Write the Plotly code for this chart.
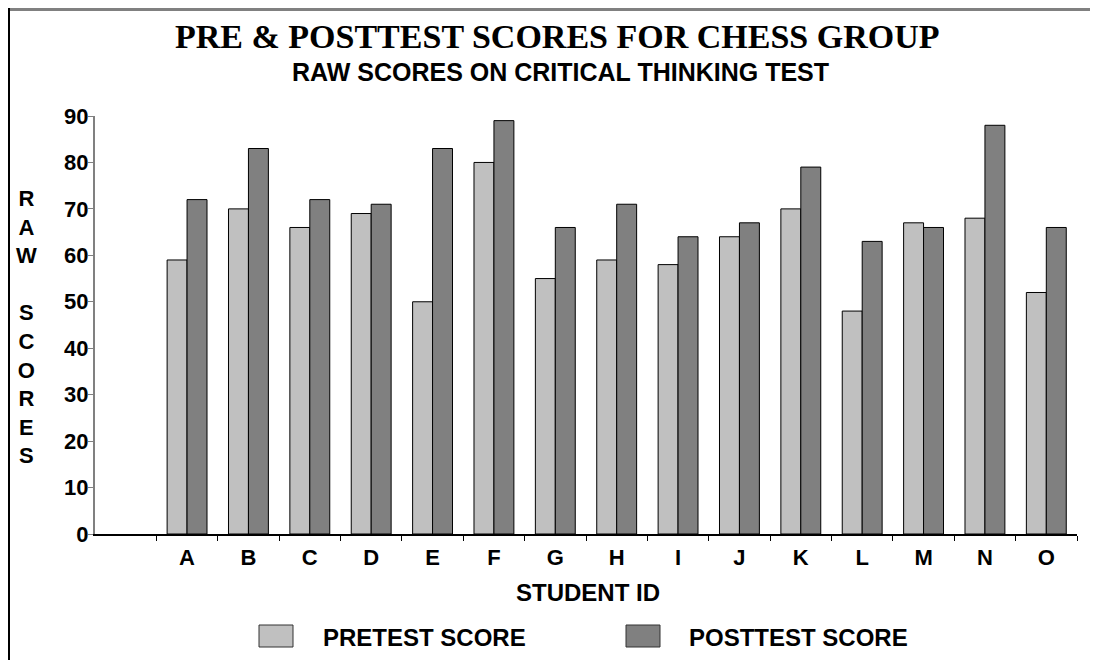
import plotly.graph_objects as go

students = ["A", "B", "C", "D", "E", "F", "G", "H", "I", "J", "K", "L", "M", "N", "O"]
pretest = [59, 70, 66, 69, 50, 80, 55, 59, 58, 64, 70, 48, 67, 68, 52]
posttest = [72, 83, 72, 71, 83, 89, 66, 71, 64, 67, 79, 63, 66, 88, 66]
series_names = ["PRETEST SCORE", "POSTTEST SCORE"]
series_colors = ["#C0C0C0", "#808080"]
y_ticks = [0, 10, 20, 30, 40, 50, 60, 70, 80, 90]

# page has an 8px body margin; figure sized to fit the 1098x660 window
OFF = 8
W, H = 1090, 652
L, R, T, B = 87, 21, 108, 126
pw, ph = W - L - R, H - T - B

def px_x(x):
    return (x - OFF - L) / pw

def px_y(y):
    return (H - B - (y - OFF)) / ph

SANS = "Liberation Sans, Arial, sans-serif"
SERIF = "Liberation Serif, Times New Roman, serif"

fig = go.Figure()
for name, vals, col in zip(series_names, [pretest, posttest], series_colors):
    fig.add_trace(go.Bar(
        x=students, y=vals, name=name,
        marker=dict(color=col, line=dict(color="#000000", width=1)),
        showlegend=False,
    ))

annotations = [
    dict(text="<b>PRE & POSTTEST SCORES FOR CHESS GROUP</b>", x=px_x(557), y=px_y(37),
         xref="paper", yref="paper", showarrow=False, xanchor="center", yanchor="middle",
         font=dict(family=SERIF, size=34, color="#000")),
    dict(text="<b>RAW SCORES ON CRITICAL THINKING TEST</b>", x=px_x(560), y=px_y(72),
         xref="paper", yref="paper", showarrow=False, xanchor="center", yanchor="middle",
         font=dict(family=SANS, size=25, color="#000")),
    dict(text="<b>STUDENT ID</b>", x=px_x(588), y=px_y(592),
         xref="paper", yref="paper", showarrow=False, xanchor="center", yanchor="middle",
         font=dict(family=SANS, size=24, color="#000")),
    dict(text="<b>R<br>A<br>W<br> <br>S<br>C<br>O<br>R<br>E<br>S</b>", x=px_x(26), y=px_y(327),
         xref="paper", yref="paper", showarrow=False, xanchor="center", yanchor="middle",
         font=dict(family=SANS, size=22, color="#000")),
]

shapes = [
    dict(type="line", xref="paper", yref="paper", x0=px_x(8), x1=px_x(1100), y0=px_y(9.5), y1=px_y(9.5),
         line=dict(color="#808080", width=3)),
    dict(type="line", xref="paper", yref="paper", x0=px_x(9), x1=px_x(9), y0=px_y(8), y1=px_y(662),
         line=dict(color="#000000", width=2)),
]

legend_sq = [259, 626]
legend_tx = [321, 687]
for name, col, sx, tx in zip(series_names, series_colors, legend_sq, legend_tx):
    shapes.append(dict(type="rect", xref="paper", yref="paper",
                       x0=px_x(sx), x1=px_x(sx + 34), y0=px_y(625), y1=px_y(647),
                       fillcolor=col, line=dict(color="#333333", width=1)))
    annotations.append(dict(text="<b>" + name + "</b>", x=px_x(tx), y=px_y(637),
                            xref="paper", yref="paper", showarrow=False,
                            xanchor="left", yanchor="middle",
                            font=dict(family=SANS, size=24, color="#000")))

fig.update_layout(
    width=W, height=H,
    margin=dict(l=L, r=R, t=T, b=B, pad=0),
    paper_bgcolor="white", plot_bgcolor="white",
    barmode="group", bargap=0.35, bargroupgap=0,
    annotations=annotations, shapes=shapes,
    showlegend=False,
)
fig.update_xaxes(
    range=[-1.5, 14.5], tickson="boundaries", ticks="outside", ticklen=5,
    tickcolor="#000", showline=True, linecolor="#000", linewidth=1.5,
    showgrid=False, zeroline=False, tickangle=0,
    tickfont=dict(family=SANS, size=22, color="#000"),
    ticklabelstandoff=3,
    tickvals=students, ticktext=["<b>%s</b>" % s for s in students],
)
fig.update_yaxes(
    range=[0, 90], tickvals=y_ticks, ticktext=["<b>%d</b>" % v for v in y_ticks],
    ticks="outside", ticklen=5, tickcolor="#808080",
    showline=True, linecolor="#808080", linewidth=2,
    showgrid=False, zeroline=False,
    tickfont=dict(family=SANS, size=22, color="#000"),
    ticklabelstandoff=-5,
)

fig.write_html("out.html")
